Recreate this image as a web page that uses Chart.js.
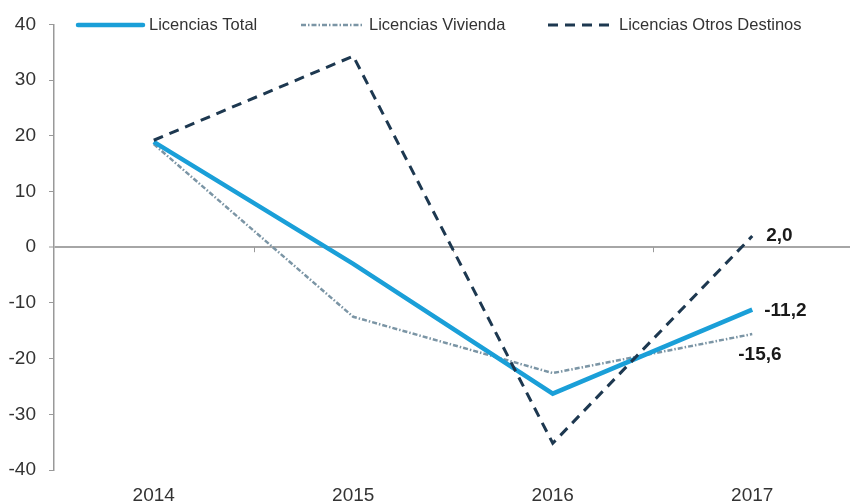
<!DOCTYPE html>
<html>
<head>
<meta charset="utf-8">
<script src="https://cdn.jsdelivr.net/npm/chart.js@4"></script>
<style>
  html, body { margin: 0; padding: 0; background: #fff; overflow: hidden; }
  #wrap { width: 853px; height: 501px; }
</style>
</head>
<body>
<div id="wrap"><canvas id="licencias-chart" width="853" height="501"></canvas></div>
<script>
// ===== datos =====
const years = ['2014', '2015', '2016', '2017'];
const licTotal = [18.9, -3.0, -26.3, -11.2];
const licVivienda = [18.5, -12.5, -22.6, -15.6];
const licOtros = [19.2, 34.3, -35.2, 2.0];
const yTicks = [-40, -30, -20, -10, 0, 10, 20, 30, 40];

const fmt = v => v.toFixed(1).replace('.', ',');

// leyenda propia, dentro del área del gráfico
const legendSlots = [
  { x0: 78, x1: 143, tx: 149 },
  { x0: 301, x1: 362, tx: 369 },
  { x0: 548, x1: 613, tx: 619 }
];

const legendPlugin = {
  id: 'legendLines',
  afterDraw(chart) {
    const ctx = chart.ctx;
    ctx.save();
    chart.data.datasets.forEach((ds, i) => {
      const s = legendSlots[i];
      const y = 25;
      ctx.strokeStyle = ds.borderColor;
      ctx.lineWidth = ds.borderWidth;
      ctx.setLineDash(ds.borderDash || []);
      ctx.lineCap = i === 0 ? 'round' : 'butt';
      ctx.beginPath();
      ctx.moveTo(s.x0, y);
      ctx.lineTo(s.x1, y);
      ctx.stroke();
      ctx.setLineDash([]);
      ctx.fillStyle = '#333';
      ctx.font = '16.5px "Liberation Sans", Arial, sans-serif';
      ctx.textBaseline = 'middle';
      ctx.textAlign = 'left';
      ctx.fillText(ds.label, s.tx, y);
    });
    ctx.restore();
  }
};

// marcas del eje x sobre la línea del cero + etiquetas del último año
const extrasPlugin = {
  id: 'extras',
  beforeDatasetsDraw(chart) {
    const { ctx, scales: { x, y } } = chart;
    const y0 = y.getPixelForValue(0);
    ctx.save();
    ctx.strokeStyle = '#999';
    ctx.lineWidth = 1;
    for (let i = 1; i < years.length; i++) {
      const bx = Math.round((x.getPixelForValue(i - 1) + x.getPixelForValue(i)) / 2) + 0.5;
      ctx.beginPath();
      ctx.moveTo(bx, y0);
      ctx.lineTo(bx, y0 + 5);
      ctx.stroke();
    }
    ctx.restore();
  },
  afterDatasetsDraw(chart) {
    const ctx = chart.ctx;
    const offsets = [[12, 1], [-14, 21], [14, 0]];
    ctx.save();
    ctx.font = 'bold 19px "Liberation Sans", Arial, sans-serif';
    ctx.fillStyle = '#1a1a1a';
    ctx.textBaseline = 'middle';
    ctx.textAlign = 'left';
    chart.data.datasets.forEach((ds, i) => {
      const meta = chart.getDatasetMeta(i);
      const last = meta.data[meta.data.length - 1];
      const v = ds.data[ds.data.length - 1];
      ctx.fillText(fmt(v), last.x + offsets[i][0], last.y + offsets[i][1]);
    });
    ctx.restore();
  }
};

const chartCtx = document.getElementById('licencias-chart').getContext('2d');
new Chart(chartCtx, {
  type: 'line',
  data: {
    labels: years,
    datasets: [
      {
        label: 'Licencias Total',
        data: licTotal,
        borderColor: '#1a9fd8',
        borderWidth: 4.5,
        pointRadius: 0,
        tension: 0,
        order: 1
      },
      {
        label: 'Licencias Vivienda',
        data: licVivienda,
        borderColor: '#7b95a5',
        borderWidth: 2.5,
        borderDash: [5, 2, 1.5, 2],
        pointRadius: 0,
        tension: 0,
        order: 2
      },
      {
        label: 'Licencias Otros Destinos',
        data: licOtros,
        borderColor: '#1d3850',
        borderWidth: 3,
        borderDash: [10, 7],
        pointRadius: 0,
        tension: 0,
        order: 0
      }
    ]
  },
  options: {
    responsive: false,
    animation: false,
    layout: { padding: { top: 21, left: 0, right: 1, bottom: 0 } },
    plugins: {
      legend: { display: false },
      tooltip: { enabled: false }
    },
    scales: {
      x: {
        offset: true,
        grid: { display: false },
        border: { display: false },
        ticks: {
          color: '#333',
          font: { size: 19, family: '"Liberation Sans", Arial, sans-serif' },
          padding: 6,
          maxRotation: 0
        },
        afterFit: s => { s.height = 31; }
      },
      y: {
        min: -40,
        max: 40,
        afterBuildTicks: s => { s.ticks = yTicks.map(v => ({ value: v })); },
        border: { display: true, color: '#999', width: 1.5 },
        grid: {
          drawOnChartArea: true,
          color: c => (c.tick && c.tick.value === 0 ? '#a6a6a6' : 'rgba(0,0,0,0)'),
          lineWidth: c => (c.tick && c.tick.value === 0 ? 2 : 1),
          tickColor: '#999',
          tickLength: 5,
          tickWidth: 1
        },
        ticks: {
          color: '#333',
          font: { size: 19, family: '"Liberation Sans", Arial, sans-serif' },
          padding: 13
        },
        afterFit: s => { s.width = 54; }
      }
    }
  },
  plugins: [legendPlugin, extrasPlugin]
});
</script>
</body>
</html>
